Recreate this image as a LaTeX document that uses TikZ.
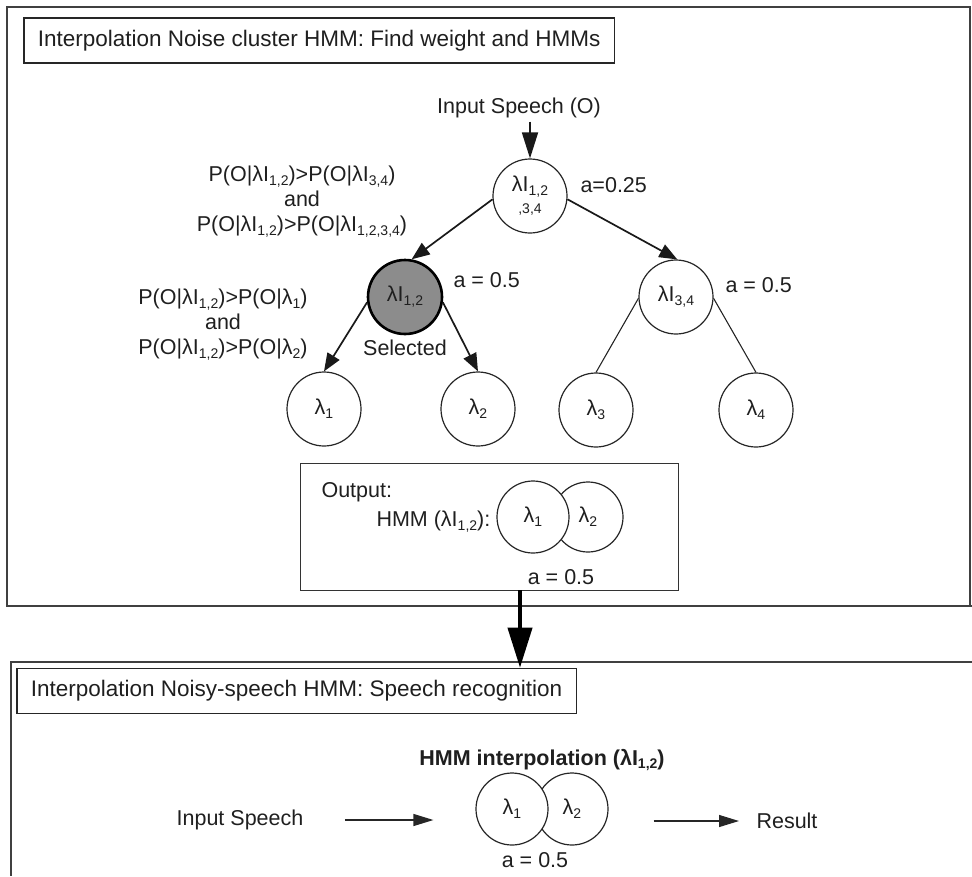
\documentclass[tikz,border=0pt]{standalone}
\usepackage{fontspec}
\setmainfont{Liberation Sans}
\usetikzlibrary{arrows.meta}
% lowered, smaller index text after a symbol
\newcommand\lsub[1]{\raisebox{-0.35ex}{\fontsize{14}{14}\selectfont #1}}

\begin{document}
\begin{tikzpicture}[x=1pt,y=-1pt,
  every node/.style={font=\fontsize{21.5}{25}\selectfont, text=black!88},
  frame/.style={draw=black!75, line width=1.4pt},
  hdr/.style={draw=black!85, line width=1.6pt, anchor=west, minimum height=45pt,
    inner xsep=14pt, font=\fontsize{22.5}{26}\selectfont},
  circ/.style={circle, draw=black!85, line width=1.2pt, minimum size=74pt,
    inner sep=0pt, fill=white},
  selcirc/.style={circ, fill=black!45, line width=2.6pt, draw=black},
  tip/.style={-{Triangle[length=18pt,width=14pt]}, line width=1.7pt, black!90},
  intip/.style={-{Triangle[length=26pt,width=16pt]}, line width=1.8pt, black!90},
  bigtip/.style={-{Triangle[length=40pt,width=24pt]}, line width=4pt, black},
  smalltip/.style={-{Triangle[length=20pt,width=12pt]}, line width=1.2pt, black!85},
  plain/.style={line width=1.1pt, black!85}
]
\useasboundingbox (0,0) rectangle (972,876);

% ---------- upper panel: noise cluster tree ----------
\draw[frame] (7,7) rectangle (970,606);
\draw[frame] (970,606) -- (972,606);
\node[hdr] (H1) at (23,40.5) {Interpolation Noise cluster HMM: Find weight and HMMs};

\node (IN) at (519,108) {Input Speech (O)};
\node[circ, align=center] (T) at (530,196)
  {λI\lsub{1,2}\\[-3pt]{\fontsize{14}{14}\selectfont ,3,4}};
\node[anchor=west] (AT) at (577,185) {a=0.25};
\draw[intip] (T.north |- IN.south) -- (T.north);

\node[align=center] (C1) at (302,202)
  {P(O|λI\lsub{1,2})>P(O|λI\lsub{3,4})\\and\\P(O|λI\lsub{1,2})>P(O|λI\lsub{1,2,3,4})};

\node[selcirc] (G) at (405,297) {λI\lsub{1,2}};
\node[anchor=west] (AG) at (450,280) {a = 0.5};
\node[circ] (R) at (676,297) {λI\lsub{3,4}};
\node[anchor=west] (AR) at (722,285) {a = 0.5};

\draw[tip] (T.185) -- (G.80);
\draw[tip] (T.-5) -- (R.88);

\node[align=center] (C2) at (223,325)
  {P(O|λI\lsub{1,2})>P(O|λ\lsub{1})\\and\\P(O|λI\lsub{1,2})>P(O|λ\lsub{2})};
\node (SEL) at (405,348) {Selected};

\node[circ] (L1) at (324,409) {λ\lsub{1}};
\node[circ] (L2) at (478,409) {λ\lsub{2}};
\node[circ] (L3) at (596,410) {λ\lsub{3}};
\node[circ] (L4) at (756,410) {λ\lsub{4}};

\draw[tip] (G.188) -- (L1.north);
\draw[tip] (G.-8) -- (L2.north);
\draw[plain] (R.182) -- (L3.north);
\draw[plain] (R.-2) -- (L4.north);

% output box with the merged model
\node[draw=black!80, line width=1.3pt, anchor=north west,
  minimum width=378pt, minimum height=127pt] (OB) at (300,463) {};
\node[anchor=west] (OUT) at (318,492) {Output:};
\node[anchor=west] (HL) at (373,522) {HMM (λI\lsub{1,2}):};
\node[circ, minimum size=70pt] (O2) at (588,517) {λ\lsub{2}};
\node[circ, minimum size=72pt] (O1) at (533,517) {λ\lsub{1}};
\node (AO) at (561,577) {a = 0.5};

% ---------- lower panel: recognition ----------
\draw[frame] (972,662) -- (11,662) -- (11,876);
\node[hdr] (H2) at (16,691) {Interpolation Noisy-speech HMM: Speech recognition};

\coordinate (BS) at (520,590);
\draw[bigtip] (BS) -- (BS |- H2.north);

\node[font=\fontsize{21.5}{25}\selectfont\bfseries] (HI) at (542,760)
  {HMM interpolation (λI\lsub{1,2})};
\node[circ, minimum size=72pt] (B2) at (572,809) {λ\lsub{2}};
\node[circ, minimum size=72pt] (B1) at (512,809) {λ\lsub{1}};
\node (AB) at (535,860) {a = 0.5};

\node (IS) at (240,820) {Input Speech};
\node (RS) at (787,821) {Result};
\draw[smalltip, shorten <=38pt, shorten >=42pt] (IS.east) -- (IS.east -| B1.west);
\draw[smalltip, shorten <=45pt, shorten >=14pt] (B2.east |- RS.west) -- (RS.west);
\end{tikzpicture}
\end{document}
